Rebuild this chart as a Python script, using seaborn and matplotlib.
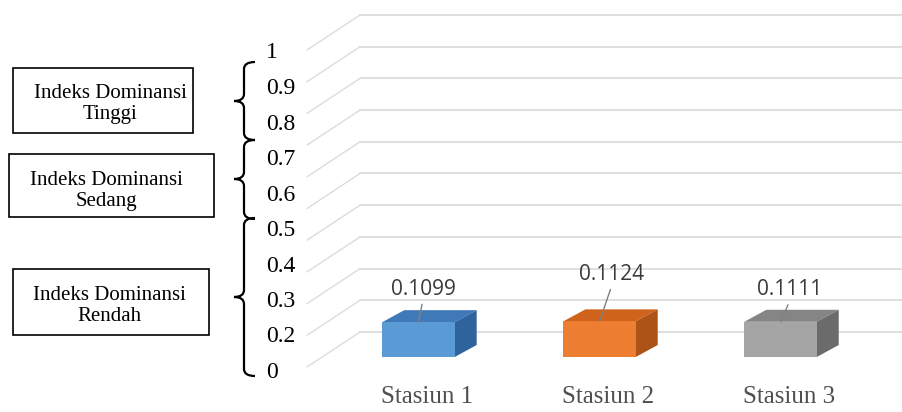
import matplotlib
matplotlib.use("Agg")
import matplotlib.pyplot as plt
import seaborn as sns
import pandas as pd
from matplotlib.patches import Polygon, Rectangle, PathPatch
from matplotlib.path import Path
from matplotlib.transforms import ScaledTranslation

# ---------------- data ----------------
categories = ["Stasiun 1", "Stasiun 2", "Stasiun 3"]
values = [0.1099, 0.1124, 0.1111]
value_labels = ["0.1099", "0.1124", "0.1111"]
grid_values = [0.0, 0.1, 0.2, 0.3, 0.4, 0.5, 0.6, 0.7, 0.8, 0.9, 1.0]
tick_labels = ["0", "0.2", "0.3", "0.4", "0.5", "0.6", "0.7", "0.8", "0.9", "1"]
class_labels = ["Indeks Dominansi\nTinggi", "Indeks Dominansi\nSedang", "Indeks Dominansi\nRendah"]

front_colors = ["#5B9BD5", "#ED7D31", "#A5A5A5"]
top_colors = ["#4079B8", "#CF631C", "#858585"]
side_colors = ["#2F639B", "#AD5318", "#6B6B6B"]

# ---------------- figure ----------------
sns.set_theme(style="white")
W, H = 902, 412
fig = plt.figure(figsize=(W / 100, H / 100), dpi=100)
fig.patch.set_facecolor("white")


def fx(px):
    return px / W


def fy(py):
    return 1 - py / H


# main axes = front plane of the bars
ax = fig.add_axes([fx(322), fy(357), fx(902) - fx(322), fy(40) - fy(357)])
ax.patch.set_alpha(0)
df = pd.DataFrame({"cat": categories, "val": values})
sns.barplot(data=df, x="cat", y="val", hue="cat", palette=front_colors,
            width=0.4, saturation=1, legend=False, ax=ax, zorder=3,
            linewidth=0)
ax.set_xlim(-0.533, 2.671)
ax.set_ylim(0, 1)
for s in ax.spines.values():
    s.set_visible(False)
ax.set_yticks([])
ax.set_xlabel("")
ax.set_ylabel("")
ax.set_xticks(range(len(categories)))
ax.set_xticklabels(categories, fontsize=18, family="Liberation Serif", color="#4F4F4F")
ax.tick_params(axis="x", length=0, pad=21)
for lbl in ax.get_xticklabels():
    lbl.set_transform(lbl.get_transform() + ScaledTranslation(8.5 / 100, 0, fig.dpi_scale_trans))


def px2data(dxp, dyp):
    x0, y0 = ax.transData.transform((0, 0))
    x1, y1 = ax.transData.inverted().transform((x0 + dxp, y0 + dyp))
    return x1, y1


# gridlines (3D wall)
xl, xr = ax.get_xlim()
fdx, fdy = px2data(-15, -10)
bdx, bdy = px2data(38, 25)
for v in grid_values:
    ax.plot([xl + fdx, xl + bdx], [v + fdy, v + bdy], color="#DCDCDC", lw=1,
            clip_on=False, zorder=0.5)
    ax.plot([xl + bdx, xr + 1], [v + bdy, v + bdy], color="#D9D9D9", lw=1.2,
            clip_on=False, zorder=0.5)

# 3D bar faces
ddx, ddy = px2data(22, 12)
for i, p in enumerate(ax.patches):
    x0, w, h = p.get_x(), p.get_width(), p.get_height()
    top = Polygon([(x0, h), (x0 + ddx, h + ddy), (x0 + w + ddx, h + ddy), (x0 + w, h)],
                  closed=True, facecolor=top_colors[i], edgecolor="none", zorder=2.9)
    side = Polygon([(x0 + w, 0), (x0 + w, h), (x0 + w + ddx, h + ddy), (x0 + w + ddx, ddy)],
                   closed=True, facecolor=side_colors[i], edgecolor="none", zorder=2.9)
    ax.add_patch(top)
    ax.add_patch(side)

# value labels with leader lines
label_offsets = [(4.5, 33), (12.5, 47), (9.5, 32)]
for i, (v, t) in enumerate(zip(values, value_labels)):
    ax.annotate(t, xy=(i, v), xytext=label_offsets[i], textcoords="offset pixels",
                ha="center", va="center", fontsize=15, family="Open Sans",
                color="#3A3A3A", zorder=5,
                arrowprops=dict(arrowstyle="-", color="#808080", lw=1,
                                shrinkA=1, shrinkB=0, relpos=(0.5, 0)))

# y tick labels column
ax_lab = fig.add_axes([fx(266), fy(370), 0.0001, fy(50.5) - fy(370)])
ax_lab.patch.set_alpha(0)
ax_lab.set_ylim(0, len(tick_labels) - 1)
ax_lab.yaxis.tick_right()
ax_lab.set_yticks(range(len(tick_labels)))
ax_lab.set_yticklabels(tick_labels, fontsize=17, family="Liberation Serif", color="black")
ax_lab.tick_params(axis="y", length=0, pad=0)
ax_lab.set_xticks([])
for s in ax_lab.spines.values():
    s.set_visible(False)

# category boxes
boxes = [(13, 68, 193, 133), (9, 154, 214, 217), (13, 269, 209, 335)]
text_centers = [(110, 104), (106, 191), (109, 306)]
for (x0, y0, x1, y1), (tx, ty), lab in zip(boxes, text_centers, class_labels):
    fig.patches.append(Rectangle((fx(x0), fy(y1)), fx(x1) - fx(x0), fy(y0) - fy(y1),
                                 transform=fig.transFigure, facecolor="white",
                                 edgecolor="black", lw=1.2))
    fig.text(fx(tx), fy(ty), lab, ha="center", va="center", multialignment="center",
             fontsize=15, family="Liberation Serif", color="black", linespacing=1.2)


# braces
def brace(yt, yb, ym, xe=255, xb=244, xt=234, r=7):
    pts = [(xe, yt), (xb, yt), (xb, yt + r), (xb, ym - r), (xb, ym), (xt, ym),
           (xb, ym), (xb, ym + r), (xb, yb - r), (xb, yb), (xe, yb)]
    codes = [Path.MOVETO, Path.CURVE3, Path.CURVE3, Path.LINETO, Path.CURVE3, Path.CURVE3,
             Path.CURVE3, Path.CURVE3, Path.LINETO, Path.CURVE3, Path.CURVE3]
    verts = [(fx(a), fy(b)) for a, b in pts]
    fig.patches.append(PathPatch(Path(verts, codes), transform=fig.transFigure,
                                 facecolor="none", edgecolor="black", lw=1.6))


brace(62, 140, 101)
brace(140, 219, 179)
brace(218, 376, 297)

fig.savefig("out.png", dpi=100)
